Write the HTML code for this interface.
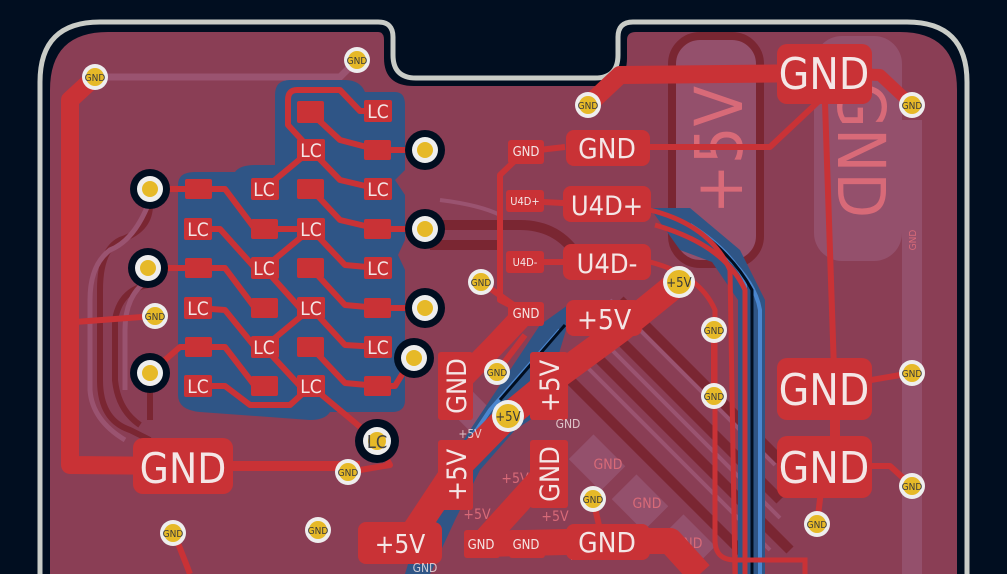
<!DOCTYPE html>
<html><head><meta charset="utf-8"><style>
html,body{margin:0;padding:0;background:#010e20;}
svg{display:block}
text{font-family:"DejaVu Sans Condensed","DejaVu Sans","Liberation Sans",sans-serif;}
</style></head><body>
<svg width="1007" height="574" viewBox="0 0 1007 574" xmlns="http://www.w3.org/2000/svg">
<rect width="1007" height="574" fill="#010e20"/>
<path d="M40 600 L40 82 Q40 22 100 22 L378 22 Q393 22 393 37 L393 55 Q393 78 416 78 L595 78 Q618 78 618 55 L618 37 Q618 22 633 22 L907 22 Q967 22 967 82 L967 600" fill="none" stroke="#c9ccc7" stroke-width="5"/>
<path d="M50 600 L50 90 Q50 32 108 32 L378 32 Q384 32 384 40 L384 58 Q384 86 414 86 L598 86 Q627 86 627 58 L627 40 Q627 32 636 32 L900 32 Q957 32 957 90 L957 600 Z" fill="#8a3e55"/>
<rect x="672" y="36" width="88" height="228" rx="28" fill="#94506c" stroke="#7a2632" stroke-width="8"/>
<text transform="translate(742,150) rotate(-90)" font-size="66" fill="#d86a78" text-anchor="middle">+5V</text>
<rect x="814" y="36" width="88" height="225" rx="28" fill="#94506c"/>
<text transform="translate(838,150) rotate(90)" font-size="66" fill="#d86a78" text-anchor="middle">GND</text>
<rect x="902" y="120" width="20" height="470" fill="#94506c"/>
<text transform="translate(916,240) rotate(-90)" font-size="10" fill="#d86a78" text-anchor="middle">GND</text>
<path d="M95 77 L340 77 L357 60" stroke="#9a5370" stroke-width="7" fill="none"/>
<g fill="none" stroke="#7a2632" stroke-width="6">
<path d="M150 205 Q150 230 120 240 Q100 250 100 290 L100 380 Q100 420 130 430 L150 440"/>
<path d="M148 285 Q120 290 115 320 L115 380 Q118 410 140 425"/>
<path d="M150 390 L150 420"/>
</g>
<g fill="none" stroke="#9a5370" stroke-width="5">
<path d="M150 200 Q135 240 110 250 Q90 265 90 300 L90 390 Q92 420 125 440"/>
<path d="M148 280 Q125 295 125 330 L125 390"/>
</g>
<g stroke="#7a2632" stroke-width="10" fill="none">
<path d="M620 300 L780 460"/><path d="M600 320 L780 500"/><path d="M585 345 L790 550"/><path d="M560 370 L760 570"/>
<path d="M430 225 L520 225 Q560 225 580 260"/><path d="M430 245 L500 245"/>
</g>
<g stroke="#9a5370" stroke-width="4" fill="none">
<path d="M610 300 L775 465"/><path d="M592 330 L780 518"/><path d="M575 355 L770 550"/>
<path d="M440 200 Q480 205 500 215"/>
</g>
<g fill="#94506c">
<rect x="455" y="400" width="40" height="30" transform="rotate(45 475 415)"/>
<rect x="575" y="445" width="45" height="35" transform="rotate(45 597 462)"/>
<rect x="618" y="485" width="45" height="35" transform="rotate(45 640 502)"/>
<rect x="665" y="525" width="45" height="35" transform="rotate(45 687 542)"/>
</g>
<g font-size="14" fill="#d86a78" text-anchor="middle">
<text x="608" y="469">GND</text><text x="647" y="508">GND</text><text x="688" y="548">GND</text>
<text x="515" y="483">+5V</text><text x="555" y="521">+5V</text><text x="477" y="519">+5V</text><text x="580" y="560">+5V</text>
</g>
<path d="M290 80 L345 80 Q360 80 365 92 L395 92 Q405 92 405 105 L405 170 L395 180 L405 195 L405 240 L398 255 L405 270 L405 400 Q405 412 392 412 L330 412 Q325 420 310 420 L200 412 Q178 410 178 395 L178 185 Q178 172 195 172 L235 172 Q240 165 255 165 L275 165 L275 95 Q275 80 290 80 Z" fill="#2f5586"/>
<path d="M650 208 L690 208 L740 250 L765 300 L765 574 L738 574 L738 300 L712 262 L680 250 Z" fill="#2f5586"/>
<path d="M540 325 L575 300 L560 350 L545 410 L515 430 L480 470 L455 520 L430 574 L405 574 L420 525 L445 470 L470 430 L490 400 Z" fill="#2f5586"/>
<g fill="none" stroke="#4a86cf" stroke-width="4">
<path d="M690 225 Q730 250 745 280 L745 574"/>
<path d="M720 250 Q755 280 760 310 L760 574"/>
<path d="M560 330 L490 410 L470 440 L440 470"/>
</g>
<g fill="none" stroke="#010e20" stroke-width="3">
<path d="M700 232 Q735 258 752 290 L752 574"/>
<path d="M565 325 L500 400"/>
</g>
<g fill="none" stroke="#c93236" stroke-width="6" stroke-linejoin="round">
<path d="M378 111 L360 111 L340 90 L297 90 Q288 90 288 100 L288 125 L311 150"/>
<path d="M310 112 L340 140 L378 150 L425 150"/>
<path d="M311 150 L264 189"/>
<path d="M311 150 L340 180 L378 189"/>
<path d="M150 189 L198 189 L225 189 L255 229 L264 229"/>
<path d="M311 189 L340 220 L378 229 L425 229"/>
<path d="M264 229 L311 229 L264 268"/>
<path d="M311 229 L345 265 L378 268"/>
<path d="M198 229 L220 229 L255 268"/>
<path d="M148 268 L198 268 L225 268 L255 308 L264 308"/>
<path d="M264 268 L300 308 L311 308"/>
<path d="M311 268 L345 305 L378 308 L425 308"/>
<path d="M311 308 L264 347"/>
<path d="M311 308 L345 345 L378 347"/>
<path d="M198 308 L225 310 L255 347 L264 347"/>
<path d="M150 373 L180 347 L225 347 L255 386 L264 386"/>
<path d="M264 347 L300 386 L311 386"/>
<path d="M311 347 L345 383 L378 386 L395 386 L414 355"/>
<path d="M198 386 L225 386 L250 405 L290 405 L311 386"/>
<path d="M311 386 L377 441"/>
<path d="M155 316 L75 322"/>
<path d="M377 441 L390 465 L348 472"/>
<path d="M525 151 L500 175 L500 300 L525 313"/>
<path d="M481 282 L525 313"/>
<path d="M714 330 L714 396"/>
<path d="M824 73 L835 400"/>
<path d="M824 388 L912 373"/>
<path d="M824 466 L890 466 L912 486"/>
<path d="M824 466 L817 524"/>
<path d="M593 499 L600 530"/>
<path d="M525 201 L600 205"/><path d="M525 262 L600 262"/>
<path d="M565 147 L530 151"/>
<path d="M600 147 L770 147 L820 100"/>
<path d="M174 533 L190 574"/>
<path d="M497 372 L525 335"/>
</g>
<g fill="none" stroke="#c93236" stroke-width="5">
<path d="M650 210 Q710 225 730 270 L735 574"/>
<path d="M650 262 Q700 275 715 310 L715 540 Q715 560 735 560 L805 560 L805 574"/>
<path d="M655 225 Q725 245 745 290 L745 574"/>
</g>
<g fill="none" stroke="#c93236" stroke-linejoin="round">
<path d="M95 77 L70 100 L70 465 L183 466" stroke-width="18"/>
<path d="M183 466 L360 466" stroke-width="10"/>
<path d="M588 105 L620 75 L824 73" stroke-width="18"/>
<path d="M824 73 L880 75 L912 105" stroke-width="12"/>
<path d="M679 282 L620 330 L548 383 L508 416 L455 470 L408 541" stroke-width="26"/>
<path d="M548 470 L481 544" stroke-width="24"/>
<path d="M455 386 L495 345 L525 313" stroke-width="22"/>
<path d="M481 544 L607 541 L670 541 L700 574" stroke-width="26"/>
<path d="M835 388 L835 466" stroke-width="10"/>
</g>
<g fill="#c93236">
<rect x="297" y="101" width="27" height="22" rx="2"/><rect x="364" y="100" width="28" height="22" rx="2"/>
<rect x="297" y="139" width="28" height="22" rx="2"/><rect x="364" y="140" width="27" height="20" rx="2"/>
<rect x="185" y="179" width="27" height="20" rx="2"/><rect x="251" y="178" width="28" height="22" rx="2"/><rect x="297" y="179" width="27" height="20" rx="2"/><rect x="364" y="178" width="28" height="22" rx="2"/>
<rect x="184" y="218" width="28" height="22" rx="2"/><rect x="251" y="219" width="27" height="20" rx="2"/><rect x="297" y="218" width="28" height="22" rx="2"/><rect x="364" y="219" width="27" height="20" rx="2"/>
<rect x="185" y="258" width="27" height="20" rx="2"/><rect x="251" y="257" width="28" height="22" rx="2"/><rect x="297" y="258" width="27" height="20" rx="2"/><rect x="364" y="257" width="28" height="22" rx="2"/>
<rect x="184" y="297" width="28" height="22" rx="2"/><rect x="251" y="298" width="27" height="20" rx="2"/><rect x="297" y="297" width="28" height="22" rx="2"/><rect x="364" y="298" width="27" height="20" rx="2"/>
<rect x="185" y="337" width="27" height="20" rx="2"/><rect x="251" y="336" width="28" height="22" rx="2"/><rect x="297" y="337" width="27" height="20" rx="2"/><rect x="364" y="336" width="28" height="22" rx="2"/>
<rect x="184" y="375" width="28" height="22" rx="2"/><rect x="251" y="376" width="27" height="20" rx="2"/><rect x="297" y="375" width="28" height="22" rx="2"/><rect x="364" y="376" width="27" height="20" rx="2"/>
</g>
<g font-size="19" fill="#f4e6e6" text-anchor="middle">
<text x="378" y="118">LC</text><text x="311" y="157">LC</text>
<text x="264" y="196">LC</text><text x="378" y="196">LC</text>
<text x="198" y="236">LC</text><text x="311" y="236">LC</text>
<text x="264" y="275">LC</text><text x="378" y="275">LC</text>
<text x="198" y="315">LC</text><text x="311" y="315">LC</text>
<text x="264" y="354">LC</text><text x="378" y="354">LC</text>
<text x="198" y="393">LC</text><text x="311" y="393">LC</text>
</g>
<g fill="#c93236">
<rect x="133" y="438" width="100" height="56" rx="10"/>
<rect x="566" y="130" width="84" height="36" rx="8"/>
<rect x="563" y="186" width="88" height="36" rx="8"/>
<rect x="563" y="244" width="88" height="36" rx="8"/>
<rect x="566" y="300" width="76" height="36" rx="8"/>
<rect x="508" y="140" width="36" height="24" rx="3"/>
<rect x="506" y="190" width="38" height="22" rx="3"/>
<rect x="506" y="251" width="38" height="22" rx="3"/>
<rect x="508" y="302" width="36" height="24" rx="3"/>
<rect x="777" y="44" width="95" height="60" rx="10"/>
<rect x="777" y="358" width="95" height="62" rx="10"/>
<rect x="777" y="436" width="95" height="62" rx="10"/>
<rect x="438" y="352" width="35" height="68" rx="3"/>
<rect x="530" y="352" width="38" height="68" rx="3"/>
<rect x="438" y="440" width="35" height="70" rx="3"/>
<rect x="530" y="440" width="38" height="68" rx="3"/>
<rect x="358" y="522" width="84" height="42" rx="8"/>
<rect x="464" y="530" width="36" height="28" rx="3"/>
<rect x="509" y="530" width="36" height="28" rx="3"/>
<rect x="566" y="524" width="84" height="36" rx="8"/>
</g>
<g fill="#f4e6e6" text-anchor="middle">
<text x="183" y="483" font-size="42">GND</text>
<text x="607" y="158" font-size="28">GND</text>
<text x="607" y="215" font-size="27">U4D+</text>
<text x="607" y="273" font-size="27">U4D-</text>
<text x="604" y="329" font-size="28">+5V</text>
<text x="526" y="156" font-size="13">GND</text>
<text x="525" y="205" font-size="11">U4D+</text>
<text x="525" y="266" font-size="11">U4D-</text>
<text x="526" y="318" font-size="13">GND</text>
<text x="824" y="89" font-size="44">GND</text>
<text x="824" y="405" font-size="44">GND</text>
<text x="824" y="483" font-size="44">GND</text>
<text transform="translate(466,386) rotate(-90)" font-size="27">GND</text>
<text transform="translate(559,386) rotate(-90)" font-size="27">+5V</text>
<text transform="translate(466,475) rotate(-90)" font-size="27">+5V</text>
<text transform="translate(559,474) rotate(-90)" font-size="27">GND</text>
<text x="400" y="553" font-size="26">+5V</text>
<text x="481" y="549" font-size="13">GND</text>
<text x="526" y="549" font-size="13">GND</text>
<text x="607" y="552" font-size="28">GND</text>
</g>
<g>
<g fill="#010e20"><circle cx="150" cy="189" r="20"/><circle cx="148" cy="268" r="20"/><circle cx="150" cy="373" r="20"/><circle cx="425" cy="150" r="20"/><circle cx="425" cy="229" r="20"/><circle cx="425" cy="308" r="20"/><circle cx="414" cy="358" r="20"/><circle cx="377" cy="441" r="22"/></g>
<g fill="#eeeeee"><circle cx="150" cy="189" r="13"/><circle cx="148" cy="268" r="13"/><circle cx="150" cy="373" r="13"/><circle cx="425" cy="150" r="13"/><circle cx="425" cy="229" r="13"/><circle cx="425" cy="308" r="13"/><circle cx="414" cy="358" r="13"/><circle cx="377" cy="441" r="14"/></g>
<g fill="#e6b928"><circle cx="150" cy="189" r="8"/><circle cx="148" cy="268" r="8"/><circle cx="150" cy="373" r="8"/><circle cx="425" cy="150" r="8"/><circle cx="425" cy="229" r="8"/><circle cx="425" cy="308" r="8"/><circle cx="414" cy="358" r="8"/><circle cx="377" cy="441" r="9"/></g>
<text x="377" y="448" font-size="18" fill="#444" text-anchor="middle">LC</text>
</g>
<g>
<g fill="#eeeeee">
<circle cx="95" cy="77" r="13"/><circle cx="357" cy="60" r="13"/><circle cx="588" cy="105" r="13"/><circle cx="912" cy="105" r="13"/><circle cx="155" cy="316" r="13"/><circle cx="481" cy="282" r="13"/><circle cx="714" cy="330" r="13"/><circle cx="714" cy="396" r="13"/><circle cx="497" cy="372" r="13"/><circle cx="508" cy="416" r="16"/><circle cx="679" cy="282" r="16"/><circle cx="912" cy="373" r="13"/><circle cx="912" cy="486" r="13"/><circle cx="348" cy="472" r="13"/><circle cx="593" cy="499" r="13"/><circle cx="817" cy="524" r="13"/><circle cx="318" cy="530" r="13"/><circle cx="173" cy="533" r="13"/>
</g>
<g fill="#e6b928">
<circle cx="95" cy="77" r="9"/><circle cx="357" cy="60" r="9"/><circle cx="588" cy="105" r="9"/><circle cx="912" cy="105" r="9"/><circle cx="155" cy="316" r="9"/><circle cx="481" cy="282" r="9"/><circle cx="714" cy="330" r="9"/><circle cx="714" cy="396" r="9"/><circle cx="497" cy="372" r="9"/><circle cx="508" cy="416" r="12"/><circle cx="679" cy="282" r="12"/><circle cx="912" cy="373" r="9"/><circle cx="912" cy="486" r="9"/><circle cx="348" cy="472" r="9"/><circle cx="593" cy="499" r="9"/><circle cx="817" cy="524" r="9"/><circle cx="318" cy="530" r="9"/><circle cx="173" cy="533" r="9"/>
</g>
<g font-size="10" fill="#3a3a3a" text-anchor="middle">
<text x="95" y="81">GND</text><text x="357" y="64">GND</text><text x="588" y="109">GND</text><text x="912" y="109">GND</text><text x="155" y="320">GND</text><text x="481" y="286">GND</text><text x="714" y="334">GND</text><text x="714" y="400">GND</text><text x="497" y="376">GND</text><text x="508" y="421" font-size="13">+5V</text><text x="679" y="287" font-size="13">+5V</text><text x="912" y="377">GND</text><text x="912" y="490">GND</text><text x="348" y="476">GND</text><text x="593" y="503">GND</text><text x="817" y="528">GND</text><text x="318" y="534">GND</text><text x="173" y="537">GND</text>
</g>
</g>
<g font-size="12" fill="#f4e6e6" text-anchor="middle" opacity="0.8">
<text x="470" y="438">+5V</text><text x="568" y="428">GND</text><text x="425" y="572">GND</text>
</g>
</svg>
</body></html>
